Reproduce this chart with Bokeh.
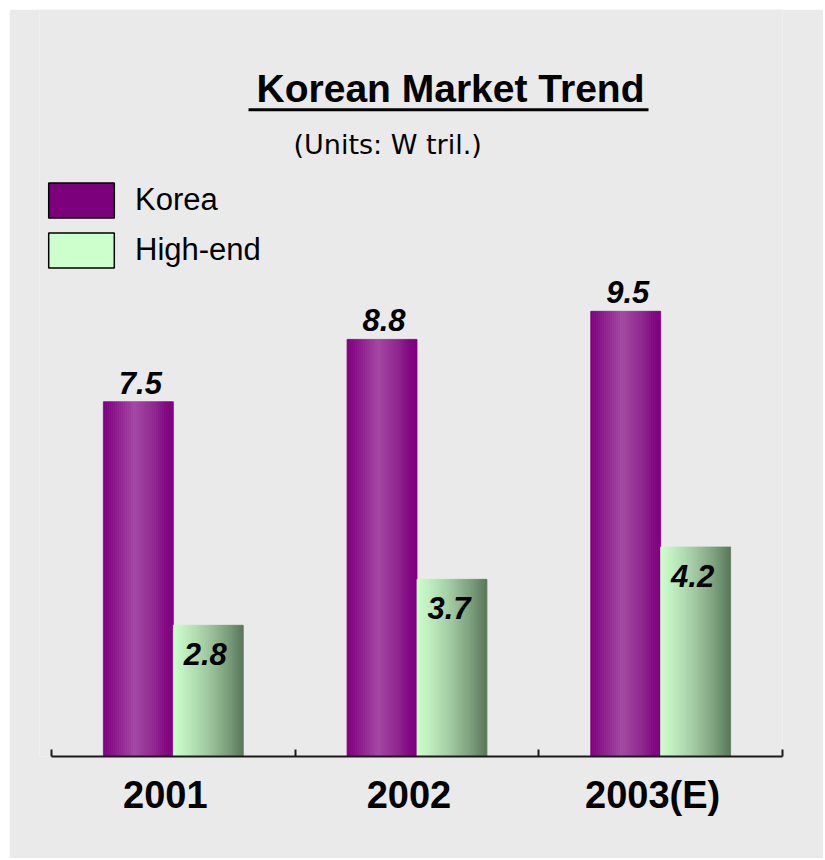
import numpy as np
from bokeh.plotting import figure
from bokeh.models import (ColumnDataSource, Range1d, LinearAxis, FixedTicker, Label,
                          BoxAnnotation, Legend, LegendItem)
from bokeh.core.properties import value
from bokeh.embed import file_html
from bokeh.resources import INLINE

# ---- data ----
years = ["2001", "2002", "2003(E)"]
korea = [7.57, 8.90, 9.50]          # bar heights as drawn
high_end = [2.80, 3.78, 4.47]
korea_labels = ["7.5", "8.8", "9.5"]
high_end_labels = ["2.8", "3.7", "4.2"]
series_names = ["Korea", "High-end"]

# ---- style ----
BG = "#eaeaea"
FONT = "Liberation Sans"
BW = 0.287       # width of one bar, in category units
N = 35           # strips per bar for the gradient
KOREA_STOPS = [(0.0, (128, 0, 128)), (0.1, (134, 14, 134)), (0.45, (164, 72, 164)),
               (0.75, (142, 36, 142)), (0.9, (130, 8, 130)), (1.0, (128, 0, 128))]
HIGH_STOPS = [(0.0, (204, 255, 204)), (0.2, (190, 236, 190)), (0.5, (160, 200, 160)),
              (0.8, (120, 155, 120)), (1.0, (90, 118, 90))]


def interp(stops, t):
    for (t0, c0), (t1, c1) in zip(stops[:-1], stops[1:]):
        if t0 <= t <= t1:
            f = (t - t0) / (t1 - t0)
            c = [round(a + (b - a) * f) for a, b in zip(c0, c1)]
            return "#%02x%02x%02x" % tuple(c)
    return "#%02x%02x%02x" % stops[-1][1]


def strip_source(vals, left_side, stops):
    xs, tops, cols = [], [], []
    for i, v in enumerate(vals):
        c = i + 0.5
        x0 = c - BW if left_side else c
        for k in range(N):
            t = (k + 0.5) / N
            xs.append(x0 + t * BW)
            tops.append(v)
            cols.append(interp(stops, t))
    return ColumnDataSource(dict(x=xs, top=tops, color=cols))


W, H = 814, 849
p = figure(width=W, height=H, output_backend="svg", toolbar_location=None,
           x_range=Range1d(-0.04925, 3), y_range=Range1d(0, 15.94),
           x_axis_location=None, y_axis_location=None,
           min_border_left=30, min_border_right=41, min_border_top=0, min_border_bottom=102,
           background_fill_color=BG, border_fill_color=BG, outline_line_color=None,
           margin=(9, 0, 0, 9))
p.grid.visible = False

# bars (gradient made of thin strips)
for vals, left, stops in [(korea, True, KOREA_STOPS), (high_end, False, HIGH_STOPS)]:
    src = strip_source(vals, left, stops)
    p.vbar(x="x", top="top", bottom=0, width=BW / N, fill_color="color",
           line_color="color", line_width=0.8, source=src)

# value labels
ksrc = ColumnDataSource(dict(x=[i + 0.5 - BW / 2 for i in range(len(years))], y=korea, t=korea_labels))
hsrc = ColumnDataSource(dict(x=[i + 0.5 + BW / 2 for i in range(len(years))], y=high_end, t=high_end_labels))
p.text(x="x", y="y", text="t", source=ksrc, text_font=value(FONT), text_font_size=value("31px"),
       text_font_style="bold italic", text_align="center", text_baseline="alphabetic",
       y_offset=-19, x_offset=2, text_color="black")
p.text(x="x", y="y", text="t", source=hsrc, text_font=value(FONT), text_font_size=value("31px"),
       text_font_style="bold italic", text_align="center", text_baseline="alphabetic",
       y_offset=29, x_offset=-3, text_color="black")

# x axis: ticks at category boundaries, labels near centres
label_ticks = [i + 0.5 - 0.033 for i in range(len(years))]
ax = LinearAxis(ticker=FixedTicker(ticks=label_ticks, minor_ticks=[0, 1, 2, 3]),
                major_label_overrides={t: y for t, y in zip(label_ticks, years)},
                bounds=(0, 3))
ax.axis_line_color = "#1a1a1a"
ax.axis_line_width = 2
ax.major_tick_line_color = None
ax.minor_tick_in = 7
ax.minor_tick_out = 0
ax.minor_tick_line_color = "#1a1a1a"
ax.minor_tick_line_width = 2
ax.major_label_standoff = 11
ax.major_label_text_font = FONT
ax.major_label_text_font_size = "38px"
ax.major_label_text_font_style = "bold"
ax.major_label_text_color = "black"
p.add_layout(ax, "below")

# title, underline, subtitle
p.add_layout(Label(x=411, y=668, x_units="screen", y_units="screen", text="Korean Market Trend",
                   text_font=FONT, text_font_size="39px", text_font_style="bold",
                   text_align="center", text_baseline="alphabetic", text_color="black"))
p.add_layout(BoxAnnotation(left=209, right=609, top=648.3, bottom=645.3,
                           left_units="screen", right_units="screen",
                           top_units="screen", bottom_units="screen",
                           fill_color="black", fill_alpha=1, line_color=None))
p.add_layout(Label(x=254, y=611.7, x_units="screen", y_units="screen", text="(Units:  W tril.)",
                   text_font="DejaVu Sans", text_font_size="27px",
                   text_align="left", text_baseline="alphabetic", text_color="black"))

# legend (proxy glyphs with no visible data)
nan = np.array([np.nan])
rk = p.vbar(x=np.array([1.0]), top=nan, bottom=0, width=0.1, fill_color="#7c007c",
            line_color="black", line_width=1.5)
rh = p.vbar(x=np.array([1.0]), top=nan, bottom=0, width=0.1, fill_color="#ccffcc",
            line_color="black", line_width=1.5)
legend = Legend(items=[LegendItem(label=series_names[0], renderers=[rk]),
                       LegendItem(label=series_names[1], renderers=[rh])],
                location=(1, 484), orientation="vertical",
                glyph_width=82, glyph_height=44, label_height=44, label_standoff=13,
                spacing=6, padding=0, margin=0, border_line_color=None,
                background_fill_alpha=0, label_text_font=FONT, label_text_font_size="31px",
                label_text_color="black")
p.add_layout(legend)

open("out.html", "w").write(file_html(p, INLINE))
